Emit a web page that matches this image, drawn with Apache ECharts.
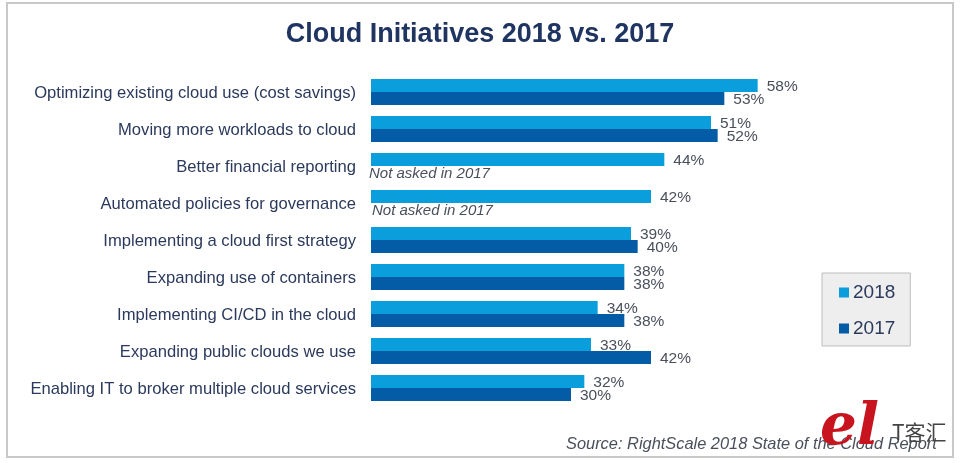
<!DOCTYPE html>
<html>
<head>
<meta charset="utf-8">
<script src="https://cdn.jsdelivr.net/npm/echarts@6/dist/echarts.min.js"></script>
<style>
html,body{margin:0;padding:0;background:#fff}
#chart{width:960px;height:463px}
</style>
</head>
<body>
<div id="chart"></div>
<script>
var categories = [
  'Optimizing existing cloud use (cost savings)',
  'Moving more workloads to cloud',
  'Better financial reporting',
  'Automated policies for governance',
  'Implementing a cloud first strategy',
  'Expanding use of containers',
  'Implementing CI/CD in the cloud',
  'Expanding public clouds we use',
  'Enabling IT to broker multiple cloud services'
]
var values2018 = [58, 51, 44, 42, 39, 38, 34, 33, 32]
var values2017 = [53, 52, null, null, 40, 38, 38, 42, 30]
var notAskedText = 'Not asked in 2017'
var textColor = '#2b3a5c'
var labelColor = '#4a4f5c'
var fontName = '"Liberation Sans", Arial, sans-serif'

var myChart = echarts.init(document.getElementById('chart'))

// rows without a 2017 answer get an empty bar that only carries the note
var data2017 = values2017.map(function (v, i) {
  if (v !== null) return v
  return {
    value: 0,
    label: {
      formatter: notAskedText,
      position: 'right',
      distance: i === 2 ? -2 : 1,
      offset: [0, 1],
      fontStyle: 'italic',
      fontSize: 15,
      color: labelColor
    }
  }
})

myChart.setOption({
  animation: false,
  backgroundColor: '#fff',
  textStyle: { fontFamily: fontName },
  title: {
    text: 'Cloud Initiatives 2018 vs. 2017',
    left: 475,
    top: 16,
    textAlign: 'center',
    textStyle: { fontSize: 27, fontWeight: 'bold', color: '#1f3460', fontFamily: fontName }
  },
  legend: {
    orient: 'vertical',
    left: 822,
    top: 273,
    data: ['2018', '2017'],
    icon: 'rect',
    itemWidth: 10,
    itemHeight: 10,
    itemGap: 17,
    padding: [10, 15, 8, 17],
    backgroundColor: '#eeeeee',
    borderColor: '#bdbdbd',
    borderWidth: 1,
    textStyle: { fontSize: 19, color: textColor, padding: [0, 0, 0, -1] }
  },
  grid: { left: 371, top: 73.5, width: 400, height: 333 },
  xAxis: { type: 'value', min: 0, max: 60, show: false },
  yAxis: {
    type: 'category',
    inverse: true,
    data: categories,
    axisLine: { show: false },
    axisTick: { show: false },
    splitLine: { show: false },
    axisLabel: {
      margin: 15,
      formatter: '{a|{value}}',
      rich: { a: { fontSize: 16.6, color: textColor, fontFamily: fontName, padding: [3, 0, 0, 0] } }
    }
  },
  series: [
    {
      name: '2018',
      type: 'bar',
      data: values2018,
      barWidth: 13,
      barGap: 0,
      itemStyle: { color: '#0a9fdc' },
      label: { show: true, position: 'right', distance: 9, offset: [0, 1], formatter: '{c}%', fontSize: 15.5, color: labelColor }
    },
    {
      name: '2017',
      type: 'bar',
      data: data2017,
      barWidth: 13,
      itemStyle: { color: '#045ca6' },
      label: { show: true, position: 'right', distance: 9, offset: [0, 1], formatter: '{c}%', fontSize: 15.5, color: labelColor }
    }
  ],
  graphic: [
    {
      type: 'rect',
      silent: true,
      z: -1,
      shape: { x: 7, y: 3, width: 946, height: 454 },
      style: { fill: '#fff', stroke: '#c8c8c8', lineWidth: 2 }
    },
    {
      type: 'text',
      left: 566,
      top: 436,
      style: { text: 'Source: RightScale 2018 State of the Cloud Report', fontFamily: fontName, fontStyle: 'italic', fontSize: 16.4, fill: labelColor }
    },
    {
      type: 'text',
      left: 820,
      top: 400,
      z: 20,
      style: { text: 'el', fontFamily: '"DejaVu Serif", serif', fontStyle: 'italic', fontWeight: 'bold', fontSize: 58, fill: '#c8141e' }
    },
    {
      type: 'text',
      left: 892,
      top: 422,
      z: 20,
      style: { text: 'T客汇', fontFamily: '"Noto Sans CJK SC"', fontSize: 21, fill: '#444' }
    }
  ]
})
</script>
</body>
</html>
